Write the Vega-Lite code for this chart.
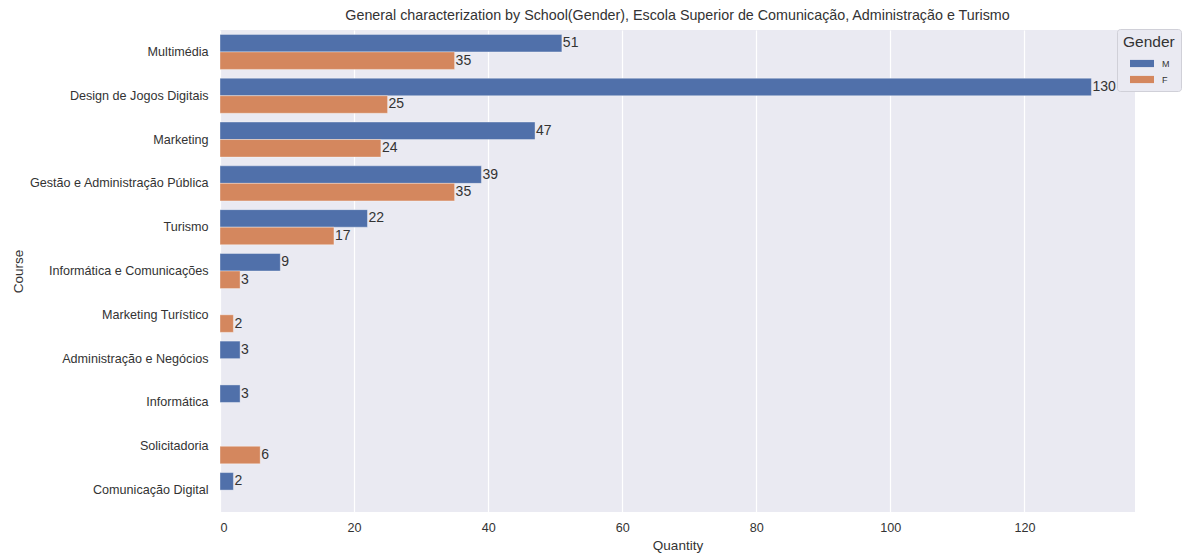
{
  "$schema": "https://vega.github.io/schema/vega-lite/v6.json",
  "autosize": {"type": "none"},
  "padding": {"left": 220, "top": 30, "right": 52, "bottom": 42},
  "width": 915,
  "height": 482,
  "background": "white",
  "title": {
    "text": "General characterization by School(Gender), Escola Superior de Comunicação, Administração e Turismo",
    "font": "Liberation Sans",
    "fontSize": 14.3,
    "fontWeight": "normal",
    "color": "#333333",
    "offset": 5,
    "anchor": "middle"
  },
  "config": {
    "view": {"fill": "#eaeaf2", "stroke": null},
    "font": "Liberation Sans",
    "axis": {
      "labelFont": "Liberation Sans",
      "titleFont": "Liberation Sans",
      "labelColor": "#333333",
      "titleColor": "#333333",
      "labelFontSize": 12.6,
      "titleFontSize": 13.5,
      "titleFontWeight": "normal",
      "domain": false,
      "ticks": false
    }
  },
  "data": {
    "values": [
      {"Course": "Multimédia", "Gender": "M", "Quantity": 51},
      {"Course": "Multimédia", "Gender": "F", "Quantity": 35},
      {"Course": "Design de Jogos Digitais", "Gender": "M", "Quantity": 130},
      {"Course": "Design de Jogos Digitais", "Gender": "F", "Quantity": 25},
      {"Course": "Marketing", "Gender": "M", "Quantity": 47},
      {"Course": "Marketing", "Gender": "F", "Quantity": 24},
      {"Course": "Gestão e Administração Pública", "Gender": "M", "Quantity": 39},
      {"Course": "Gestão e Administração Pública", "Gender": "F", "Quantity": 35},
      {"Course": "Turismo", "Gender": "M", "Quantity": 22},
      {"Course": "Turismo", "Gender": "F", "Quantity": 17},
      {"Course": "Informática e Comunicações", "Gender": "M", "Quantity": 9},
      {"Course": "Informática e Comunicações", "Gender": "F", "Quantity": 3},
      {"Course": "Marketing Turístico", "Gender": "F", "Quantity": 2},
      {"Course": "Administração e Negócios", "Gender": "M", "Quantity": 3},
      {"Course": "Informática", "Gender": "M", "Quantity": 3},
      {"Course": "Solicitadoria", "Gender": "F", "Quantity": 6},
      {"Course": "Comunicação Digital", "Gender": "M", "Quantity": 2}
    ]
  },
  "encoding": {
    "y": {
      "field": "Course",
      "type": "nominal",
      "sort": ["Multimédia", "Design de Jogos Digitais", "Marketing", "Gestão e Administração Pública", "Turismo", "Informática e Comunicações", "Marketing Turístico", "Administração e Negócios", "Informática", "Solicitadoria", "Comunicação Digital"],
      "scale": {"paddingInner": 0.2, "paddingOuter": 0.1},
      "axis": {
        "title": "Course",
        "labelPadding": 12,
        "grid": false,
        "titleX": -202,
        "titleY": 241,
        "titleAngle": -90,
        "titleAlign": "center",
        "titleBaseline": "middle"
      }
    },
    "yOffset": {
      "field": "Gender",
      "type": "nominal",
      "sort": ["M", "F"],
      "scale": {"domain": ["M", "F"], "paddingInner": 0, "paddingOuter": 0}
    },
    "x": {
      "field": "Quantity",
      "type": "quantitative",
      "scale": {"domain": [0, 136.5], "nice": false},
      "axis": {
        "title": "Quantity",
        "values": [0, 20, 40, 60, 80, 100, 120],
        "grid": true,
        "gridColor": "white",
        "gridWidth": 1.2,
        "labelPadding": 9,
        "titlePadding": 5
      }
    }
  },
  "layer": [
    {
      "mark": {"type": "bar", "stroke": "white", "strokeWidth": 0.6, "strokeOpacity": 0.6},
      "encoding": {
        "color": {
          "field": "Gender",
          "type": "nominal",
          "scale": {"domain": ["M", "F"], "range": ["#5070aa", "#d4875e"]},
          "legend": {
            "title": "Gender",
            "orient": "none",
            "legendX": 897,
            "legendY": -1,
            "titleFontSize": 15.5,
            "titleFontWeight": "normal",
            "titleColor": "#333333",
            "titleFont": "Liberation Sans",
            "titlePadding": 7,
            "labelFontSize": 9,
            "labelColor": "#333333",
            "labelFont": "Liberation Sans",
            "symbolType": "M-2,-0.6H2V0.6H-2Z",
            "symbolSize": 144,
            "symbolStrokeWidth": 0,
            "symbolOpacity": 1,
            "symbolOffset": 13,
            "fillColor": "#eaeaf2",
            "strokeColor": "#d0d0d8",
            "cornerRadius": 3,
            "padding": 6,
            "rowPadding": 5,
            "labelOffset": 14
          }
        }
      }
    },
    {
      "mark": {"type": "text", "align": "left", "baseline": "middle", "dx": 1, "fontSize": 14, "color": "#333333", "font": "Liberation Sans"},
      "encoding": {
        "text": {"field": "Quantity", "type": "quantitative"}
      }
    }
  ]
}
